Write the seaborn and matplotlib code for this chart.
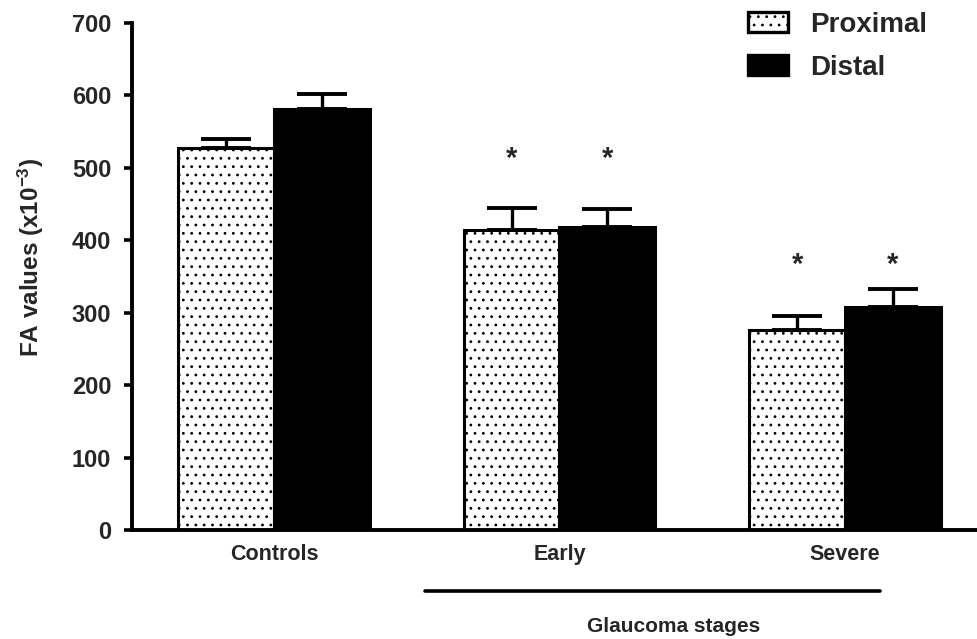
import matplotlib
matplotlib.use("Agg")
import matplotlib.pyplot as plt
from matplotlib.patches import Patch
import seaborn as sns
import pandas as pd

# ---- data ----
groups = ["Controls", "Early", "Severe"]
series = ["Proximal", "Distal"]
proximal = [527, 414, 276]
distal = [581, 418, 308]
proximal_err = [13, 31, 19]
distal_err = [21, 25, 25]
star_level = [None, 513, 366]          # height of significance asterisks
yticks = [0, 100, 200, 300, 400, 500, 600, 700]
ylabel = "FA values (x10$^{-3}$)"
xgroup_label = "Glaucoma stages"

df = pd.DataFrame({
    "group": groups * 2,
    "location": [series[0]] * 3 + [series[1]] * 3,
    "value": proximal + distal,
})

sns.set_theme(style="white")
plt.rcParams["font.family"] = ["Liberation Sans", "DejaVu Sans"]
plt.rcParams["font.weight"] = "bold"
plt.rcParams["mathtext.default"] = "regular"
plt.rcParams["hatch.linewidth"] = 0.8
plt.rcParams["hatch.color"] = "black"

fig = plt.figure(figsize=(9.77, 6.39), dpi=100)
ax = fig.add_axes([132 / 977, 1 - 530 / 639, 1 - 132 / 977, (530 - 23) / 639])

sns.barplot(data=df, x="group", y="value", hue="location", order=groups,
            hue_order=series, palette=["white", "black"], width=0.67,
            edgecolor="black", linewidth=2.2, saturation=1, errorbar=None,
            legend=False, ax=ax)

errs = [proximal_err, distal_err]
vals = [proximal, distal]
bar_containers = list(ax.containers)
for si, cont in enumerate(bar_containers):
    for gi, bar in enumerate(cont):
        if si == 0:
            bar.set_hatch("..")
            bar.set_facecolor("white")
        xc = bar.get_x() + bar.get_width() / 2
        ax.errorbar(xc, vals[si][gi], yerr=[[0], [errs[si][gi]]], fmt="none",
                    ecolor="black", elinewidth=2.4, capsize=18, capthick=2.8,
                    zorder=1)
        if star_level[gi] is not None:
            ax.text(xc, star_level[gi], "*", ha="center", va="center",
                    fontsize=21, fontweight="bold")

ax.set_ylim(0, 700)
ax.set_xlim(-0.497, 2.462)
ax.set_yticks(yticks)
ax.set_xlabel("")
ax.set_ylabel(ylabel, fontsize=17.5, fontweight="bold")
ax.yaxis.set_label_coords(-0.102, 0.538)
for s in ["top", "right"]:
    ax.spines[s].set_visible(False)
for s in ["left", "bottom"]:
    ax.spines[s].set_linewidth(2.8)
    ax.spines[s].set_color("black")
ax.tick_params(axis="y", length=6, width=2.6, labelsize=17, pad=9, left=True,
               color="black")
ax.tick_params(axis="x", length=0, labelsize=15.5, pad=10)
for lab in ax.get_xticklabels() + ax.get_yticklabels():
    lab.set_fontweight("bold")

# group line and label under Early/Severe
line_y = 1 - 591 / 639
fig.add_artist(plt.Line2D([425 / 977, 880 / 977], [line_y, line_y],
                          color="black", linewidth=2.6))
fig.text(674 / 977, 1 - 627 / 639, xgroup_label, ha="center", va="center",
         fontsize=15, fontweight="bold")

handles = [Patch(facecolor="white", edgecolor="black", hatch="..", linewidth=2.4),
           Patch(facecolor="black", edgecolor="black", linewidth=2.4)]
leg = fig.legend(handles, series, loc="upper left",
                 bbox_to_anchor=(748 / 977, 1 - 12 / 639), frameon=False,
                 prop={"size": 20, "weight": "bold"}, handlelength=1.44,
                 handleheight=0.75, handletextpad=0.8, labelspacing=0.6,
                 borderpad=0, borderaxespad=0)

fig.savefig("out.png", dpi=100)
